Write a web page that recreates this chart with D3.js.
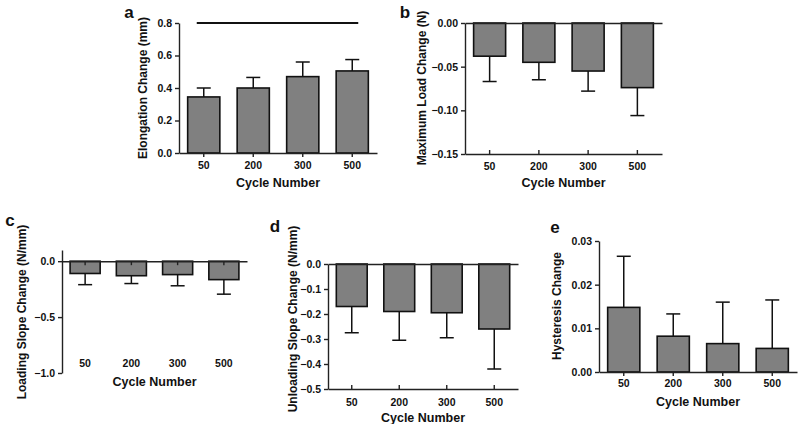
<!DOCTYPE html>
<html>
<head>
<meta charset="utf-8">
<script src="https://cdn.jsdelivr.net/npm/d3@7"></script>
<style>
  html, body { margin: 0; padding: 0; background: #fff; }
  svg { display: block; font-family: "Liberation Sans", Arial, sans-serif; font-weight: bold; }
</style>
</head>
<body>
<svg id="chart" width="800" height="424"></svg>
<script>
// ---- Data ----
const categories = ["50", "200", "300", "500"];

const elongationMean = [0.345, 0.40, 0.47, 0.505];
const elongationErr  = [0.055, 0.065, 0.09, 0.07];
const elongationTicks = [0, 0.2, 0.4, 0.6, 0.8];

const maxLoadMean = [-0.038, -0.045, -0.055, -0.074];
const maxLoadErr  = [0.029, 0.020, 0.023, 0.032];
const maxLoadTicks = [0, -0.05, -0.10, -0.15];

const loadSlopeMean = [-0.11, -0.13, -0.12, -0.165];
const loadSlopeErr  = [0.10, 0.07, 0.10, 0.13];
const loadSlopeTicks = [0, -0.5, -1.0];

const unloadSlopeMean = [-0.17, -0.19, -0.195, -0.26];
const unloadSlopeErr  = [0.105, 0.115, 0.10, 0.16];
const unloadSlopeTicks = [0, -0.1, -0.2, -0.3, -0.4, -0.5];

const hysteresisMean = [0.0148, 0.0082, 0.0065, 0.0054];
const hysteresisErr  = [0.0117, 0.0051, 0.0095, 0.0111];
const hysteresisTicks = [0, 0.01, 0.02, 0.03];

const significanceLevel = 0.8;

// ---- Drawing ----
const svg = d3.select("#chart");
const AXIS = "#222";

function panel(cfg) {
  const g = svg.append("g");
  const x = d3.scaleBand().domain(categories).range(cfg.xr)
    .paddingInner(0.35).paddingOuter(0.175);
  const y = d3.scaleLinear().domain(cfg.domain).range(cfg.yr);
  const data = categories.map((c, i) => ({ c, m: cfg.mean[i], e: cfg.err[i] }));

  // bars
  g.selectAll("rect.bar").data(data).join("rect")
    .attr("x", d => x(d.c))
    .attr("width", x.bandwidth())
    .attr("y", d => y(Math.max(0, d.m)))
    .attr("height", d => Math.abs(y(d.m) - y(0)))
    .attr("fill", "#808080")
    .attr("stroke", "#111")
    .attr("stroke-width", 1.6);

  // error bars (one-sided, away from zero)
  const cap = 7;
  data.forEach(d => {
    const cx = x(d.c) + x.bandwidth() / 2;
    const end = d.m >= 0 ? d.m + d.e : d.m - d.e;
    g.append("line").attr("x1", cx).attr("x2", cx)
      .attr("y1", y(d.m)).attr("y2", y(end))
      .attr("stroke", "#111").attr("stroke-width", 1.5);
    g.append("line").attr("x1", cx - cap).attr("x2", cx + cap)
      .attr("y1", y(end)).attr("y2", y(end))
      .attr("stroke", "#111").attr("stroke-width", 1.5);
  });

  // y axis
  const yAxis = d3.axisLeft(y).tickValues(cfg.ticks).tickFormat(d3.format(cfg.fmt))
    .tickSize(4).tickSizeOuter(0).tickPadding(3);
  const ya = g.append("g").attr("transform", `translate(${cfg.xr[0]},0)`).call(yAxis);
  ya.select(".domain").attr("stroke", AXIS).attr("stroke-width", 1.4);
  ya.selectAll(".tick line").attr("stroke", AXIS).attr("stroke-width", 1.4);
  ya.selectAll("text").attr("font-size", 10.5).attr("font-weight", "bold").attr("fill", "#111")
    .attr("font-family", "Liberation Sans, Arial, sans-serif");

  // zero line with ticks
  const zeroAxis = d3.axisBottom(x).tickSize(cfg.zeroTick).tickSizeOuter(0).tickFormat("");
  const za = g.append("g").attr("transform", `translate(0,${y(0)})`).call(zeroAxis);
  za.select(".domain").attr("stroke", AXIS).attr("stroke-width", 1.4);
  za.selectAll(".tick line").attr("stroke", AXIS).attr("stroke-width", 1.4);

  // bottom line (for negative panels with frame)
  if (cfg.bottomLine) {
    const ba = g.append("g").attr("transform", `translate(0,${y(cfg.domain[0])})`)
      .call(d3.axisTop(x).tickSize(4).tickSizeOuter(0).tickFormat(""));
    ba.select(".domain").attr("stroke", AXIS).attr("stroke-width", 1.4);
    ba.selectAll(".tick line").attr("stroke", AXIS).attr("stroke-width", 1.4);
  }

  // category labels
  g.selectAll("text.cat").data(categories).join("text")
    .attr("class", "cat")
    .attr("x", d => x(d) + x.bandwidth() / 2)
    .attr("y", cfg.catY)
    .attr("text-anchor", "middle")
    .attr("dominant-baseline", "central")
    .attr("font-size", 10.5)
    .attr("fill", "#111")
    .text(d => d);

  // x title
  g.append("text")
    .attr("x", (cfg.xr[0] + cfg.xr[1]) / 2)
    .attr("y", cfg.titleY)
    .attr("text-anchor", "middle")
    .attr("dominant-baseline", "central")
    .attr("font-size", 12.5)
    .attr("fill", "#111")
    .text("Cycle Number");

  // y title
  g.append("text")
    .attr("transform", `translate(${cfg.yTitle[0]},${cfg.yTitle[1]}) rotate(-90)`)
    .attr("text-anchor", "middle")
    .attr("dominant-baseline", "central")
    .attr("font-size", 12)
    .attr("fill", "#111")
    .text(cfg.yLabel);

  // panel letter
  g.append("text")
    .attr("x", cfg.letter[0]).attr("y", cfg.letter[1])
    .attr("text-anchor", "middle")
    .attr("dominant-baseline", "central")
    .attr("font-size", 17)
    .attr("fill", "#111")
    .text(cfg.id);

  return { g, x, y };
}

const pa = panel({
  id: "a", mean: elongationMean, err: elongationErr, ticks: elongationTicks, fmt: ".1f",
  domain: [0, 0.8], xr: [179, 377], yr: [153, 23], zeroTick: 4, bottomLine: false,
  catY: 165, titleY: 183, yTitle: [143, 88], letter: [129, 12],
  yLabel: "Elongation Change (mm)"
});
// significance line
pa.g.append("line")
  .attr("x1", pa.x("50") + pa.x.bandwidth() / 2 - 7)
  .attr("x2", pa.x("500") + pa.x.bandwidth() / 2 + 6)
  .attr("y1", pa.y(significanceLevel)).attr("y2", pa.y(significanceLevel))
  .attr("stroke", "#111").attr("stroke-width", 2);

panel({
  id: "b", mean: maxLoadMean, err: maxLoadErr, ticks: maxLoadTicks, fmt: ".2f",
  domain: [-0.15, 0], xr: [465, 662], yr: [154, 23], zeroTick: 0, bottomLine: true,
  catY: 166, titleY: 183, yTitle: [422, 88], letter: [405, 12],
  yLabel: "Maximum Load Change (N)"
});

panel({
  id: "c", mean: loadSlopeMean, err: loadSlopeErr, ticks: loadSlopeTicks, fmt: ".1f",
  domain: [-1.0, 0.1], xr: [62, 247], yr: [373, 250], zeroTick: 4, bottomLine: false,
  catY: 363, titleY: 382, yTitle: [22, 312], letter: [10, 220],
  yLabel: "Loading Slope Change (N/mm)"
});

panel({
  id: "d", mean: unloadSlopeMean, err: unloadSlopeErr, ticks: unloadSlopeTicks, fmt: ".1f",
  domain: [-0.5, 0], xr: [328, 518], yr: [389, 264], zeroTick: 0, bottomLine: true,
  catY: 402, titleY: 418, yTitle: [293, 319], letter: [275, 226],
  yLabel: "Unloading Slope Change (N/mm)"
});

panel({
  id: "e", mean: hysteresisMean, err: hysteresisErr, ticks: hysteresisTicks, fmt: ".2f",
  domain: [0, 0.03], xr: [599, 797], yr: [372, 241], zeroTick: 4, bottomLine: false,
  catY: 383, titleY: 402, yTitle: [557, 306], letter: [555, 227],
  yLabel: "Hysteresis Change"
});
</script>
</body>
</html>
